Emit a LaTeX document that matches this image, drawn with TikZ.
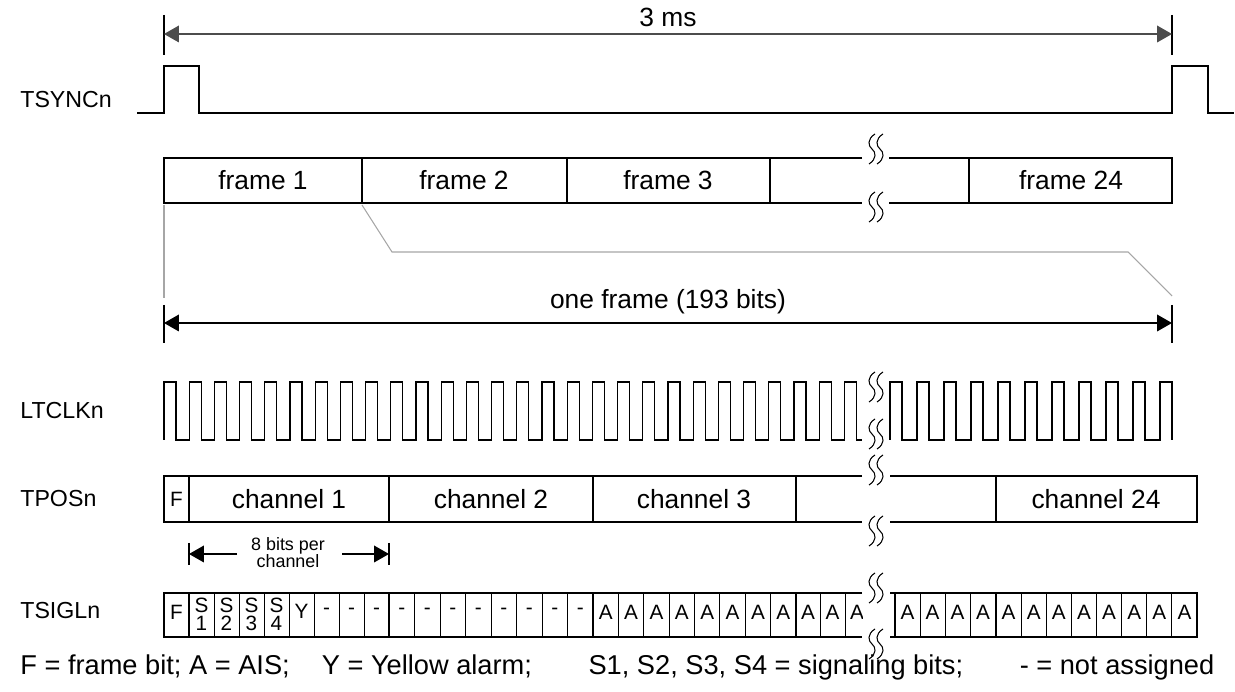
\documentclass[tikz,border=0pt]{standalone}
\usepackage{fontspec}
\setmainfont{Liberation Sans}
\usetikzlibrary{arrows.meta}
\tikzset{%
    lbl/.style={inner sep=0pt,font=\fontsize{15}{17}\selectfont},
    sig/.style={inner sep=0pt,anchor=west,font=\fontsize{13.2}{15}\selectfont},
    bit/.style={inner sep=0pt,font=\fontsize{11.8}{10.4}\selectfont},
    small/.style={inner sep=0pt,align=center,font=\fontsize{10.2}{9.6}\selectfont},
    box/.style={line width=0.9pt},
    sep/.style={line width=1.3pt},
    div/.style={line width=0.5pt},
    wave/.style={line width=0.7pt},
    tick/.style={line width=0.7pt},
    dim/.style={{Triangle[length=8.5pt,width=9.5pt]}-{Triangle[length=8.5pt,width=9.5pt]},line width=0.7pt},
    head/.style={-{Triangle[length=8.5pt,width=9.5pt]},line width=0.7pt},
    zoomln/.style={black!35,line width=0.6pt}
}
% pair of wavy break marks centred at (#1,#2)
\newcommand{\brkmark}[2]{%
    \foreach \dx in {0,8}{%
        \draw[line width=0.6pt] ({#1+\dx+3},{#2-15}) .. controls ({#1+\dx-5},{#2-10}) and ({#1+\dx-4},{#2-3}) .. ({#1+\dx},{#2}) .. controls ({#1+\dx+4},{#2+3}) and ({#1+\dx+5},{#2+10}) .. ({#1+\dx-3},{#2+15});
    }%
}

\begin{document}
\begin{tikzpicture}[x=0.02cm,y=-0.02cm]
\useasboundingbox (0,0) rectangle (1235,692);

\node[sig] (tsync) at (20,100) {TSYNCn};
\node[sig] (ltclk) at (20,411) {LTCLKn};
\node[sig] (tpos) at (20,499) {TPOSn};
\node[sig] (tsigl) at (20,611) {TSIGLn};

% 3 ms
\coordinate (msa) at (164,34);
\coordinate (msb) at (1172,34);
\draw[tick] (164,15) -- (164,55) (1172,15) -- (1172,55);
\draw[dim,black!70] (msa) -- (msb);
\node[lbl] (ms) at (668,17) {3 ms};

\draw[wave] (137,113) -- (164,113) -- (164,66) -- (199,66) -- (199,113) -- (1172,113)
    -- (1172,66) -- (1208,66) -- (1208,113) -- (1234,113);

% frames
\draw[box] (862,158) -- (164,158) -- (164,203) -- (862,203);
\draw[box] (889,158) -- (1172,158) -- (1172,203) -- (889,203);
\foreach \x in {362,567,770,969} \draw[box] (\x,158) -- (\x,203);
\node[lbl] (f1) at (263,180) {frame 1};
\node[lbl] (f2) at (464,180) {frame 2};
\node[lbl] (f3) at (668,180) {frame 3};
\node[lbl] (f24) at (1071,180) {frame 24};
\brkmark{872}{149}
\brkmark{872}{207}

\draw[zoomln] (164,205) -- (164,298);
\draw[zoomln] (362,205) -- (392,252) -- (1128,252) -- (1172,296);

% one frame
\coordinate (ofa) at (164,323);
\coordinate (ofb) at (1172,323);
\draw[tick] (164,305) -- (164,343) (1172,305) -- (1172,343);
\draw[dim] (ofa) -- (ofb);
\node[lbl] (of) at (668,302) {one frame (193 bits)};

% clock
\draw[wave] (164,440) \foreach \k in {0,...,27}{ -- ({164+25.2*\k},440) -- ({164+25.2*\k},382)
    -- ({176+25.2*\k},382) -- ({176+25.2*\k},440)} -- (862,440);
\draw[wave] (890,440) \foreach \k in {0,...,10}{ -- ({890+27*\k},440) -- ({890+27*\k},382)
    -- ({902+27*\k},382) -- ({902+27*\k},440)} -- (1172,440);
\brkmark{872}{387}
\brkmark{872}{434}

% TPOSn
\draw[box] (862,476) -- (164,476) -- (164,522) -- (862,522);
\draw[box] (890,476) -- (1197,476) -- (1197,522) -- (890,522);
\foreach \x in {189,389,593,796,996} \draw[box] (\x,476) -- (\x,522);
\node[bit] (pf) at (176.5,499) {F};
\node[lbl] (c1) at (289,499) {channel 1};
\node[lbl] (c2) at (491,499) {channel 2};
\node[lbl] (c3) at (694,499) {channel 3};
\node[lbl] (c24) at (1096,499) {channel 24};
\brkmark{872}{470}
\brkmark{872}{531}

% 8 bits per channel
\coordinate (bla) at (237,554);
\coordinate (blb) at (189,554);
\coordinate (bra) at (342,554);
\coordinate (brb) at (389,554);
\draw[tick] (189,543) -- (189,565) (389,543) -- (389,565);
\draw[head] (bla) -- (blb);
\draw[head] (bra) -- (brb);
\node[small] (bits) at (288,553) {8 bits per\\channel};

% TSIGLn
\draw[box] (862,593) -- (164,593) -- (164,637) -- (862,637);
\draw[box] (890,593) -- (1197,593) -- (1197,637) -- (890,637);
\draw[box] (895,593) -- (895,637);
\foreach \x in {189,389,593,796,996} \draw[sep] (\x,593) -- (\x,637);
\foreach \a/\w in {189/25,389/25.5,593/25.375,996/25.125}
    \foreach \k in {1,...,7} \draw[div] ({\a+\k*\w},593) -- ({\a+\k*\w},637);
\foreach \x in {820.5,845,920,945,970} \draw[div] (\x,593) -- (\x,637);
\node[bit] (sf) at (176.5,612) {F};
\foreach \k in {1,...,4} \node[bit,align=center] (s\k) at ({189+25*(\k-0.5)},614) {S\\\k};
\node[bit] (sy) at (301.5,611) {Y};
\foreach \k in {5,6,7} \node[bit] (n\k) at ({189+25*(\k+0.5)},611) {-};
\foreach \k in {0,...,7} \node[bit] (m\k) at ({389+25.5*(\k+0.5)},611) {-};
\foreach \k in {0,...,7} \node[bit] (a\k) at ({593+25.375*(\k+0.5)},612) {A};
\node[bit] (ax1) at (808,612) {A};
\node[bit] (ax2) at (832.5,612) {A};
\begin{scope}
\clip (846,590) rectangle (862,640);
\node[bit] (ax3) at (857,612) {A};
\end{scope}
\foreach \x in {907.5,932.5,957.5,983} \node[bit] at (\x,612) {A};
\foreach \k in {0,...,7} \node[bit] (b\k) at ({996+25.125*(\k+0.5)},612) {A};
\brkmark{872}{588}
\brkmark{872}{644}

\node[lbl,anchor=west,font=\fontsize{15.5}{17}\selectfont] (legend) at (20,667) {F = frame bit; A = AIS;\hspace{0.9em} Y = Yellow alarm;\hspace{1.8em} S1, S2, S3, S4 = signaling bits;\hspace{1.8em} - = not assigned};
\end{tikzpicture}
\end{document}
